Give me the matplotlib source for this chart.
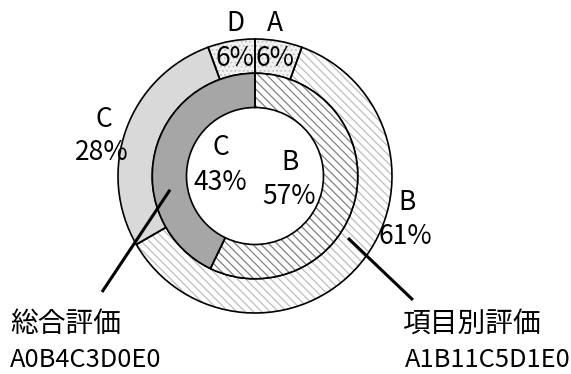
import numpy as np
import matplotlib
matplotlib.use("Agg")
import matplotlib.pyplot as plt

plt.rcParams["font.family"] = ["Noto Sans CJK JP", "DejaVu Sans"]
plt.rcParams["hatch.linewidth"] = 0.9

# data (counts per grade)
outer_names = ["A", "B", "C", "D"]
outer_counts = [1, 11, 5, 1]          # 項目別評価 A1 B11 C5 D1 E0
inner_names = ["B", "C"]
inner_counts = [4, 3]                 # 総合評価 A0 B4 C3 D0 E0
outer_title, outer_code = "項目別評価", "A1B11C5D1E0"
inner_title, inner_code = "総合評価", "A0B4C3D0E0"

# styles
outer_face = ["#f2f2f2", "white", "#d9d9d9", "#f2f2f2"]
outer_hatch = ["....", "\\\\\\\\", None, "...."]
outer_hcol = ["#c8c8c8", "#bdbdbd", "#d9d9d9", "#c8c8c8"]
inner_face = ["white", "#a6a6a6"]
inner_hatch = ["\\\\\\\\", None]
inner_hcol = ["#808080", "#a6a6a6"]

W, H = 571, 374
fig = plt.figure(figsize=(W / 100, H / 100), dpi=100)
cx, cy, R = 255, 176, 137
ax = fig.add_axes([(cx - R) / W, (H - cy - R) / H, 2 * R / W, 2 * R / H])
ax.set_xlim(-1, 1); ax.set_ylim(-1, 1)
ax.set_aspect("equal"); ax.axis("off")


def ring(vals, radius, faces, hatches, hcols):
    wedges, _ = ax.pie(vals, radius=radius, startangle=90, counterclock=False,
                       colors=faces, wedgeprops=dict(width=0.25, linewidth=0))
    for w, h, c in zip(wedges, hatches, hcols):
        w.set_edgecolor(c)
        if h:
            w.set_hatch(h)
    ax.pie(vals, radius=radius, startangle=90, counterclock=False,
           colors=["none"] * len(vals),
           wedgeprops=dict(width=0.25, linewidth=1.2, edgecolor="black"))


ring(outer_counts, 1.0, outer_face, outer_hatch, outer_hcol)
ring(inner_counts, 0.75, inner_face, inner_hatch, inner_hcol)
ax.set_xlim(-1, 1); ax.set_ylim(-1, 1)

pct_o = [f"{round(100 * v / sum(outer_counts))}%" for v in outer_counts]
pct_i = [f"{round(100 * v / sum(inner_counts))}%" for v in inner_counts]

fs = 19
kw = dict(ha="center", va="center", fontsize=fs, clip_on=False)
# outer labels: A, B, C, D
ax.text(0.146, 1.11, outer_names[0], **kw); ax.text(0.146, 0.861, pct_o[0], **kw)
ax.text(1.11, -0.19, outer_names[1], **kw); ax.text(1.10, -0.445, pct_o[1], **kw)
ax.text(-1.10, 0.416, outer_names[2], **kw); ax.text(-1.117, 0.168, pct_o[2], **kw)
ax.text(-0.146, 1.11, outer_names[3], **kw); ax.text(-0.146, 0.861, pct_o[3], **kw)
# inner labels
ax.text(0.255, 0.10, inner_names[0], **kw); ax.text(0.248, -0.146, pct_i[0], **kw)
ax.text(-0.248, 0.21, inner_names[1], **kw); ax.text(-0.255, -0.05, pct_i[1], **kw)

# leader lines
ax.plot([-0.62, -1.117], [-0.10, -0.847], color="black", lw=2.2, clip_on=False,
        solid_capstyle="butt")
ax.plot([0.679, 1.153], [-0.453, -0.905], color="black", lw=2.2, clip_on=False,
        solid_capstyle="butt")

fig.text(10 / W, 1 - 324 / H, inner_title, ha="left", va="center", fontsize=20)
fig.text(10 / W, 1 - 360 / H, inner_code, ha="left", va="center", fontsize=18.3)
fig.text(402 / W, 1 - 324 / H, outer_title, ha="left", va="center", fontsize=20)
fig.text(405 / W, 1 - 360 / H, outer_code, ha="left", va="center", fontsize=18.3)

fig.savefig("out.png", dpi=100)
